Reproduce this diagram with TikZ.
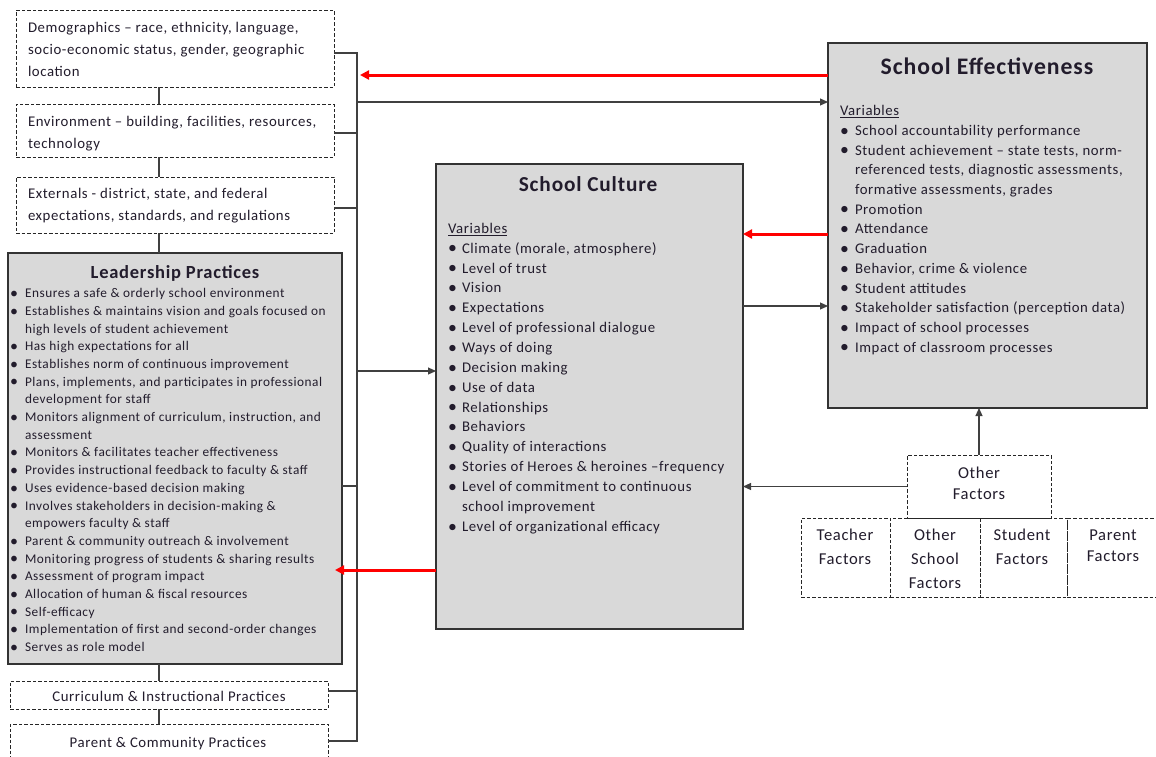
\documentclass[tikz,border=0pt]{standalone}
\usepackage{fontspec}
\usepackage{graphicx}
\setmainfont{Carlito}[LetterSpace=4.0]
\usetikzlibrary{arrows.meta}
\definecolor{boxgray}{HTML}{D9D9D9}
\definecolor{txtc}{HTML}{221C2C}
\newcommand\bul{\raisebox{-0.05em}{\scalebox{1.2}{\textbullet}}}
\newcommand\bl[2]{\makebox[#1][l]{\bul}#2}
\newcommand\cn[2]{\hspace*{#1}#2}
\newcommand\fTop{\fontsize{14.8pt}{22pt}\selectfont}
\newcommand\fLead{\fontsize{13.3pt}{17.7pt}\selectfont}
\newcommand\fCult{\fontsize{14.8pt}{19.86pt}\selectfont}
\newcommand\fEff{\fontsize{14.75pt}{19.7pt}\selectfont}
\newcommand\fFac{\fontsize{16.6pt}{24pt}\selectfont}
\newcommand\fFacB{\fontsize{16.6pt}{21pt}\selectfont}
\begin{document}
\begin{tikzpicture}[x=1pt,y=-1pt,
 gbox/.style={draw=black!80,line width=1.2pt,fill=boxgray,inner sep=0pt,outer sep=0pt,anchor=north west},
 dbox/.style={draw=black!85,line width=0.9pt,dash pattern=on 3.5pt off 2pt,inner sep=0pt,outer sep=0pt,anchor=north west},
 txt/.style={inner sep=0pt,outer sep=0pt,text=txtc,align=left,anchor=north west},
 ctxt/.style={inner sep=0pt,outer sep=0pt,text=txtc,align=center},
 conn/.style={draw=black!75,line width=1.1pt},
 arr/.style={conn,-{Triangle[length=8pt,width=7pt]}},
 rarr/.style={draw=red,line width=3pt,-{Triangle[length=9pt,width=9pt]}},
]
\useasboundingbox (0,0) rectangle (1156,756);
\clip (0,0) rectangle (1156,756);
\fill[white] (0,0) rectangle (1156,756);

% boxes
\node[dbox,minimum width=318pt,minimum height=77pt] (demo) at (16,10) {};
\node[dbox,minimum width=318pt,minimum height=53pt] (env) at (16,104) {};
\node[dbox,minimum width=318pt,minimum height=56pt] (ext) at (16,177) {};
\node[gbox,minimum width=334pt,minimum height=411pt] (lead) at (8,253) {};
\node[dbox,minimum width=318pt,minimum height=28pt] (curr) at (10,681) {};
\node[dbox,minimum width=318pt,minimum height=36pt] (par) at (10,724) {};
\node[gbox,minimum width=307pt,minimum height=465pt] (cult) at (436,164) {};
\node[gbox,minimum width=319pt,minimum height=365pt] (eff) at (828,43) {};
\node[dbox,minimum width=144pt,minimum height=63pt] (other) at (907,455) {};
\node[dbox,minimum width=89pt,minimum height=79pt] (f1) at (801,518) {};
\node[dbox,minimum width=90pt,minimum height=79pt] (f2) at (890,518) {};
\node[dbox,minimum width=87pt,minimum height=79pt] (f3) at (980,518) {};
\node[dbox,minimum width=100pt,minimum height=79pt] (f4) at (1067,518) {};

% connectors
\coordinate (vx) at (159,0);
\coordinate (bt) at (357,53);
\coordinate (bb) at (357,741);
\draw[conn] (demo.east |- bt) -- (bt) -- (bb) -- (par.east |- bb);
\coordinate (yenv) at (357,133);
\draw[conn] (env.east |- yenv) -- (yenv);
\coordinate (yext) at (357,208);
\draw[conn] (ext.east |- yext) -- (yext);
\coordinate (ylead) at (357,486);
\draw[conn] (lead.east |- ylead) -- (ylead);
\coordinate (ycurr) at (357,691);
\draw[conn] (curr.east |- ycurr) -- (ycurr);
\draw[conn] (demo.south -| vx) -- (env.north -| vx);
\draw[conn] (env.south -| vx) -- (ext.north -| vx);
\draw[conn] (ext.south -| vx) -- (lead.north -| vx);
\draw[conn] (lead.south -| vx) -- (curr.north -| vx);
\draw[conn] (curr.south -| vx) -- (par.north -| vx);

% arrows
\coordinate (r1) at (360,75);
\draw[rarr] (eff.west |- r1) -- (r1);
\coordinate (a1) at (357,102);
\draw[arr] (a1) -- (eff.west |- a1);
\coordinate (a2) at (357,371);
\draw[arr] (a2) -- (cult.west |- a2);
\coordinate (r2) at (780,234);
\draw[rarr] (eff.west |- r2) -- (cult.east |- r2);
\coordinate (a3) at (780,306);
\draw[arr] (cult.east |- a3) -- (eff.west |- a3);
\draw[arr] (other.west) -- (cult.east |- other.west);
\coordinate (r3) at (335,570);
\draw[rarr] (cult.west |- r3) -- (r3);
\draw[arr] (other.north) -- (eff.south -| other.north);

% texts
\node[txt,font=\fTop] (demot) at (28,22) {Demographics – race, ethnicity, language,\\socio-economic status,  gender, geographic\\location};
\node[txt,font=\fTop] (envt) at (28,116) {Environment – building, facilities, resources,\\technology};
\node[txt,font=\fTop] (extt) at (28,188) {Externals - district, state, and federal\\expectations, standards, and regulations};

\node[ctxt,font=\fontsize{18.5pt}{20pt}\selectfont\bfseries] (leadh) at (175,273.5) {Leadership Practices};
\node[txt,font=\fLead] (leadt) at (10,288.4) {%
\bl{15pt}{Ensures a safe \& orderly school environment}\\
\bl{15pt}{Establishes \& maintains vision and goals focused on}\\
\cn{15pt}{high levels of student achievement}\\
\bl{15pt}{Has high expectations for all}\\
\bl{15pt}{Establishes norm of continuous  improvement}\\
\bl{15pt}{Plans, implements, and participates in professional}\\
\cn{15pt}{development for staff}\\
\bl{15pt}{Monitors alignment of curriculum, instruction, and}\\
\cn{15pt}{assessment}\\
\bl{15pt}{Monitors \& facilitates teacher effectiveness}\\
\bl{15pt}{Provides instructional feedback to faculty \& staff}\\
\bl{15pt}{Uses evidence-based decision making}\\
\bl{15pt}{Involves stakeholders in decision-making \&}\\
\cn{15pt}{empowers faculty \& staff}\\
\bl{15pt}{Parent \& community outreach  \& involvement}\\
\bl{15pt}{Monitoring progress of students \& sharing results}\\
\bl{15pt}{Assessment of program impact}\\
\bl{15pt}{Allocation of human \& fiscal resources}\\
\bl{15pt}{Self-efficacy}\\
\bl{15pt}{Implementation of first and second-order  changes}\\
\bl{15pt}{Serves as role model}};

\node[ctxt,font=\fontsize{21.3pt}{24pt}\selectfont\bfseries] (culth) at (588,184) {School Culture};
\node[txt,font=\fCult] (cultt) at (448,223.1) {%
\underline{Variables}\\
\bl{14pt}{Climate (morale, atmosphere)}\\
\bl{14pt}{Level of trust}\\
\bl{14pt}{Vision}\\
\bl{14pt}{Expectations}\\
\bl{14pt}{Level of professional  dialogue}\\
\bl{14pt}{Ways of doing}\\
\bl{14pt}{Decision making}\\
\bl{14pt}{Use of data}\\
\bl{14pt}{Relationships}\\
\bl{14pt}{Behaviors}\\
\bl{14pt}{Quality of interactions}\\
\bl{14pt}{Stories of Heroes \& heroines –frequency}\\
\bl{14pt}{Level of commitment  to  continuous}\\
\cn{14pt}{school improvement}\\
\bl{14pt}{Level of organizational  efficacy}};

\node[ctxt,font=\fontsize{23.7pt}{26pt}\selectfont\bfseries] (effh) at (987,66) {School Effectiveness};
\node[txt,font=\fEff] (efft) at (840,105.5) {%
\underline{Variables}\\
\bl{15pt}{School accountability  performance}\\
\bl{15pt}{Student achievement – state  tests,  norm-}\\
\cn{15pt}{referenced tests, diagnostic  assessments,}\\
\cn{15pt}{formative assessments,  grades}\\
\bl{15pt}{Promotion}\\
\bl{15pt}{Attendance}\\
\bl{15pt}{Graduation}\\
\bl{15pt}{Behavior, crime \& violence}\\
\bl{15pt}{Student attitudes}\\
\bl{15pt}{Stakeholder satisfaction  (perception data)}\\
\bl{15pt}{Impact of school processes}\\
\bl{15pt}{Impact of classroom processes}};

\node[ctxt,font=\fTop] (currt) at (169,696) {Curriculum \& Instructional Practices};
\node[ctxt,font=\fTop] (part) at (168,743.5) {Parent \& Community  Practices};

\node[ctxt,font=\fontsize{16.6pt}{21pt}\selectfont] (othert) at (979,483.5) {Other\\Factors};
\node[ctxt,font=\fFac] (f1t) at (845,547) {Teacher\\Factors};
\node[ctxt,font=\fFac] (f2t) at (935,559) {Other\\School\\Factors};
\node[ctxt,font=\fFac] (f3t) at (1022,547) {Student\\Factors};
\node[ctxt,font=\fFacB] (f4t) at (1113,545.5) {Parent\\Factors};
\end{tikzpicture}
\end{document}
